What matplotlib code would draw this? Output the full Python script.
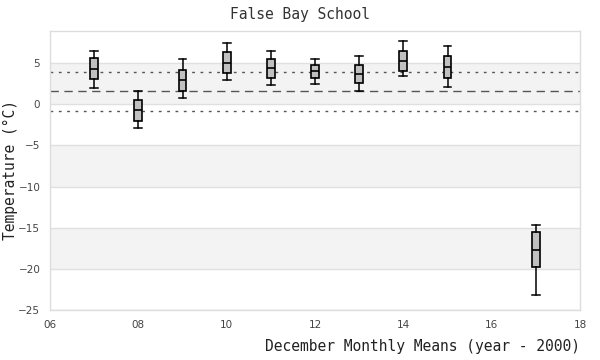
import matplotlib
matplotlib.use("Agg")
import matplotlib.pyplot as plt

years = [7, 8, 9, 10, 11, 12, 13, 14, 15, 17]
whislo = [1.95, -2.89, 0.77, 2.96, 2.32, 2.44, 1.59, 3.41, 2.07, -23.13]
q1 = [3.05, -2.04, 1.62, 3.82, 3.17, 3.17, 2.56, 4.02, 3.17, -19.72]
med = [4.27, -0.70, 2.93, 5.04, 4.39, 4.02, 3.66, 5.24, 4.51, -17.65]
q3 = [5.61, 0.52, 4.15, 6.34, 5.49, 4.76, 4.76, 6.46, 5.85, -15.49]
whishi = [6.46, 1.62, 5.49, 7.44, 6.46, 5.49, 5.85, 7.68, 7.07, -14.63]

overall_mean = 1.62
upper_sd = 3.94
lower_sd = -0.82

x_ticks = [6, 8, 10, 12, 14, 16, 18]
x_labels = ["06", "08", "10", "12", "14", "16", "18"]
y_ticks = [5, 0, -5, -10, -15, -20, -25]
bands = [(0, 5), (-10, -5), (-20, -15)]

fig = plt.figure(figsize=(6, 3.6), dpi=100)
ax = fig.add_axes([50/600, 1-310/360, 530/600, 279/360])

for lo, hi in bands:
    ax.axhspan(lo, hi, color="#f3f3f3", zorder=0, lw=0)
for y in y_ticks:
    ax.axhline(y, color="#e0e0e0", lw=1, zorder=0.5)

ax.axhline(upper_sd, color="#555555", lw=1, ls=(0, (2, 4)), zorder=1)
ax.axhline(lower_sd, color="#555555", lw=1, ls=(0, (2, 4)), zorder=1)
ax.axhline(overall_mean, color="#555555", lw=1, ls=(0, (6, 4)), zorder=1)

stats = []
for i in range(len(years)):
    stats.append(dict(whislo=whislo[i], q1=q1[i], med=med[i], q3=q3[i],
                      whishi=whishi[i], fliers=[]))
ax.bxp(stats, positions=years, widths=0.18, patch_artist=True,
       showfliers=False, manage_ticks=False,
       boxprops=dict(facecolor="#c0c0c0", edgecolor="black", lw=1.2),
       medianprops=dict(color="black", lw=1.2),
       whiskerprops=dict(color="black", lw=1.1),
       capprops=dict(color="black", lw=1.1), capwidths=0.18,
       zorder=3)

ax.set_xlim(6, 18)
ax.set_ylim(-25, 8.9)
ax.set_xticks(x_ticks)
ax.set_xticklabels(x_labels)
ax.set_yticks(y_ticks)
ax.tick_params(length=0, labelsize=7.5, colors="#444444", pad=7)
for s in ax.spines.values():
    s.set_color("#dddddd")
    s.set_linewidth(1)

mono = "DejaVu Sans Mono"
fig.text(300/600, 1-14/360, "False Bay School", ha="center", va="center",
         family=mono, fontsize=10.5, color="#333333")
fig.text(580/600, 1-347/360, "December Monthly Means (year - 2000)", ha="right",
         va="center", family=mono, fontsize=10.5, color="#222222")
fig.text(10/600, 1-170/360, "Temperature (°C)", rotation=90, ha="center",
         va="center", family=mono, fontsize=10.5, color="#222222")

fig.savefig("out.png", dpi=100)
